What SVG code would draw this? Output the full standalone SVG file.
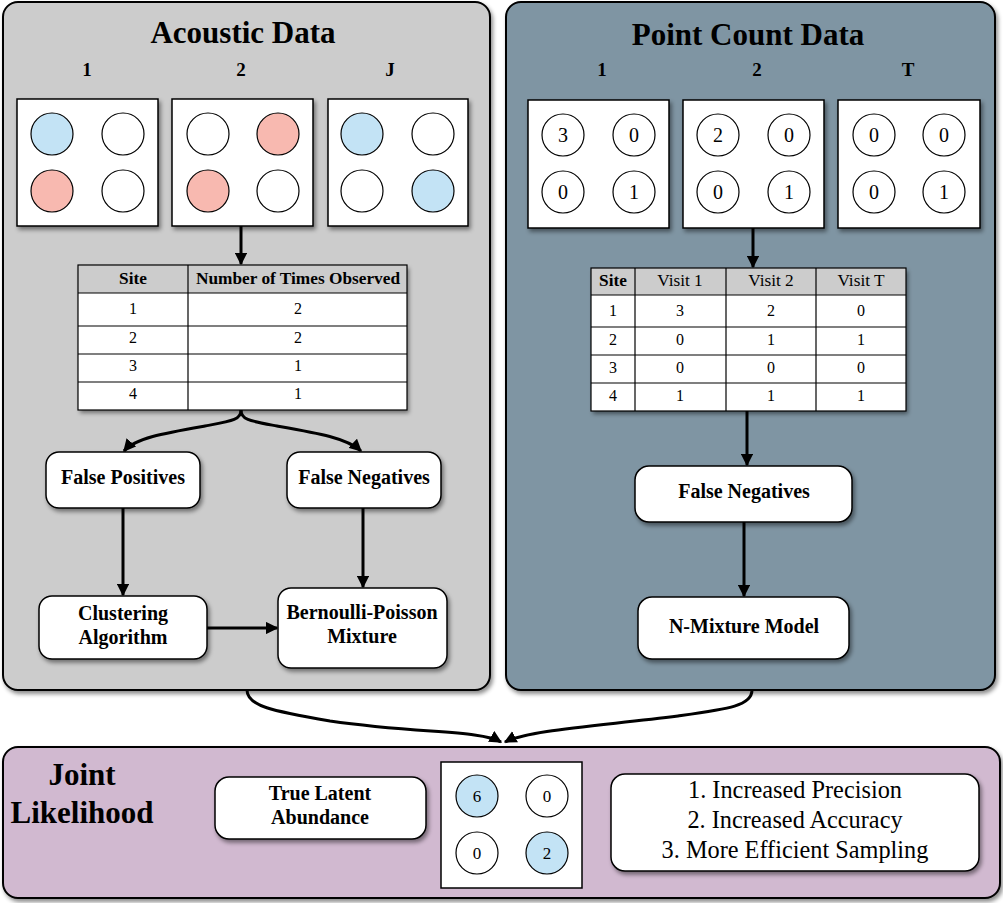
<svg xmlns="http://www.w3.org/2000/svg" width="1003" height="903" viewBox="0 0 1003 903">
<defs>
<filter id="sh" x="-10%" y="-10%" width="130%" height="130%">
<feDropShadow dx="2" dy="3" stdDeviation="2" flood-color="#000" flood-opacity="0.45"/>
</filter>
<marker id="ah" viewBox="0 0 10 10" refX="9" refY="5" markerWidth="4.2" markerHeight="4.2" orient="auto" markerUnits="strokeWidth">
<path d="M0,0 L10,5 L0,10 z" fill="#000"/>
</marker>
</defs>
<style>
text{font-family:"Liberation Serif","Times New Roman",serif;fill:#000;text-anchor:middle}
.b{font-weight:bold}
.ttl{font-size:31px;font-weight:bold}
.col{font-size:19px;font-weight:bold}
.nd{font-size:20px;font-weight:bold}
.tb{font-size:16px}
.th{font-size:17.3px}
.cn{font-size:20px}
.cs{font-size:17px}
.bf{font-size:24.3px}
.panel{stroke:#000;stroke-width:2}
.box{fill:#fff;stroke:#000;stroke-width:1.5}
.node{fill:#fff;stroke:#000;stroke-width:1.5}
.c{stroke:#000;stroke-width:1.2;fill:#fff}
.bl{fill:#c3e3f5}
.pk{fill:#f8b9b0}
.tl{stroke:#000;stroke-width:1.2}
.hd{fill:#cccccc}
.conn path,.conn line{stroke:#000;stroke-width:3;fill:none;marker-end:url(#ah)}
</style>

<g id="acoustic-panel">
<rect class="panel" x="3" y="2" width="487" height="688" rx="15" fill="#cccccc" filter="url(#sh)"/>
<text class="ttl" x="243" y="43">Acoustic Data</text>
<text class="col" x="87" y="76">1</text>
<text class="col" x="241" y="76">2</text>
<text class="col" x="390" y="76">J</text>
</g>

<g id="acoustic-1">
<rect class="box" x="17" y="99" width="141" height="127" filter="url(#sh)"/>
<circle class="c bl" cx="52" cy="134" r="21"/>
<circle class="c" cx="123" cy="134" r="21"/>
<circle class="c pk" cx="52" cy="191" r="21"/>
<circle class="c" cx="123" cy="191" r="21"/>
</g>
<g id="acoustic-2">
<rect class="box" x="172" y="99" width="141" height="127" filter="url(#sh)"/>
<circle class="c" cx="208" cy="134" r="21"/>
<circle class="c pk" cx="278" cy="134" r="21"/>
<circle class="c pk" cx="208" cy="191" r="21"/>
<circle class="c" cx="278" cy="191" r="21"/>
</g>
<g id="acoustic-J">
<rect class="box" x="328" y="99" width="140" height="127" filter="url(#sh)"/>
<circle class="c bl" cx="362" cy="134" r="21"/>
<circle class="c" cx="433" cy="134" r="21"/>
<circle class="c" cx="362" cy="191" r="21"/>
<circle class="c bl" cx="433" cy="191" r="21"/>
</g>

<g id="acoustic-table">
<rect x="78" y="265" width="329" height="145" fill="#fff" filter="url(#sh)"/>
<rect x="78" y="265" width="329" height="28" class="hd"/>
<rect x="78" y="265" width="329" height="145" fill="none" class="tl"/>
<line class="tl" x1="78" y1="293" x2="407" y2="293"/>
<line class="tl" x1="78" y1="326" x2="407" y2="326"/>
<line class="tl" x1="78" y1="354" x2="407" y2="354"/>
<line class="tl" x1="78" y1="382" x2="407" y2="382"/>
<line class="tl" x1="188" y1="265" x2="188" y2="410"/>
<text class="th b" x="133" y="284">Site</text>
<text class="th b" x="298" y="284">Number of Times Observed</text>
<text class="tb" x="133" y="314">1</text><text class="tb" x="298" y="314">2</text>
<text class="tb" x="133" y="343">2</text><text class="tb" x="298" y="343">2</text>
<text class="tb" x="133" y="371">3</text><text class="tb" x="298" y="371">1</text>
<text class="tb" x="133" y="399">4</text><text class="tb" x="298" y="399">1</text>
</g>

<g id="false-positives">
<rect class="node" x="46" y="452" width="154" height="56" rx="13" filter="url(#sh)"/>
<text class="nd" x="123" y="484">False Positives</text>
</g>
<g id="false-negatives-acoustic">
<rect class="node" x="287" y="452" width="154" height="56" rx="13" filter="url(#sh)"/>
<text class="nd" x="364" y="484">False Negatives</text>
</g>
<g id="clustering">
<rect class="node" x="39" y="596" width="168" height="63" rx="13" filter="url(#sh)"/>
<text class="nd" x="123" y="620">Clustering</text>
<text class="nd" x="123" y="644">Algorithm</text>
</g>
<g id="bernoulli-poisson">
<rect class="node" x="278" y="588" width="169" height="80" rx="13" filter="url(#sh)"/>
<text class="nd" x="362" y="619">Bernoulli-Poisson</text>
<text class="nd" x="362" y="643">Mixture</text>
</g>

<g id="pointcount-panel">
<rect class="panel" x="506" y="2" width="489" height="688" rx="15" fill="#7f95a3" filter="url(#sh)"/>
<text class="ttl" x="748" y="45">Point Count Data</text>
<text class="col" x="602" y="76">1</text>
<text class="col" x="757" y="76">2</text>
<text class="col" x="908" y="76">T</text>
</g>

<g id="visit-1">
<rect class="box" x="528" y="100" width="141" height="128" filter="url(#sh)"/>
<circle class="c" cx="563" cy="135" r="21"/><text class="cn" x="563" y="142">3</text>
<circle class="c" cx="634" cy="135" r="21"/><text class="cn" x="634" y="142">0</text>
<circle class="c" cx="563" cy="192" r="21"/><text class="cn" x="563" y="199">0</text>
<circle class="c" cx="634" cy="192" r="21"/><text class="cn" x="634" y="199">1</text>
</g>
<g id="visit-2">
<rect class="box" x="683" y="100" width="141" height="128" filter="url(#sh)"/>
<circle class="c" cx="718" cy="135" r="21"/><text class="cn" x="718" y="142">2</text>
<circle class="c" cx="789" cy="135" r="21"/><text class="cn" x="789" y="142">0</text>
<circle class="c" cx="718" cy="192" r="21"/><text class="cn" x="718" y="199">0</text>
<circle class="c" cx="789" cy="192" r="21"/><text class="cn" x="789" y="199">1</text>
</g>
<g id="visit-T">
<rect class="box" x="838" y="100" width="142" height="128" filter="url(#sh)"/>
<circle class="c" cx="874" cy="135" r="21"/><text class="cn" x="874" y="142">0</text>
<circle class="c" cx="944" cy="135" r="21"/><text class="cn" x="944" y="142">0</text>
<circle class="c" cx="874" cy="192" r="21"/><text class="cn" x="874" y="199">0</text>
<circle class="c" cx="944" cy="192" r="21"/><text class="cn" x="944" y="199">1</text>
</g>

<g id="pointcount-table">
<rect x="591" y="268" width="315" height="143" fill="#fff" filter="url(#sh)"/>
<rect x="591" y="268" width="315" height="27" class="hd"/>
<rect x="591" y="268" width="315" height="143" fill="none" class="tl"/>
<line class="tl" x1="591" y1="295" x2="906" y2="295"/>
<line class="tl" x1="591" y1="327" x2="906" y2="327"/>
<line class="tl" x1="591" y1="355" x2="906" y2="355"/>
<line class="tl" x1="591" y1="383" x2="906" y2="383"/>
<line class="tl" x1="635" y1="268" x2="635" y2="411"/>
<line class="tl" x1="726" y1="268" x2="726" y2="411"/>
<line class="tl" x1="816" y1="268" x2="816" y2="411"/>
<text class="th b" x="613" y="286">Site</text>
<text class="th" x="680" y="286">Visit 1</text>
<text class="th" x="771" y="286">Visit 2</text>
<text class="th" x="861" y="286">Visit T</text>
<text class="tb" x="613" y="316">1</text><text class="tb" x="680" y="316">3</text><text class="tb" x="771" y="316">2</text><text class="tb" x="861" y="316">0</text>
<text class="tb" x="613" y="345">2</text><text class="tb" x="680" y="345">0</text><text class="tb" x="771" y="345">1</text><text class="tb" x="861" y="345">1</text>
<text class="tb" x="613" y="373">3</text><text class="tb" x="680" y="373">0</text><text class="tb" x="771" y="373">0</text><text class="tb" x="861" y="373">0</text>
<text class="tb" x="613" y="401">4</text><text class="tb" x="680" y="401">1</text><text class="tb" x="771" y="401">1</text><text class="tb" x="861" y="401">1</text>
</g>

<g id="false-negatives-pointcount">
<rect class="node" x="635" y="466" width="217" height="56" rx="14" filter="url(#sh)"/>
<text class="nd" x="744" y="498">False Negatives</text>
</g>
<g id="n-mixture">
<rect class="node" x="638" y="597" width="211" height="62" rx="14" filter="url(#sh)"/>
<text class="nd" x="744" y="633">N-Mixture Model</text>
</g>

<g id="joint-panel">
<rect class="panel" x="3" y="747" width="997" height="151" rx="15" fill="#d1b9d0" filter="url(#sh)"/>
<text class="ttl" x="82" y="785">Joint</text>
<text class="ttl" x="82" y="823">Likelihood</text>
</g>
<g id="true-latent">
<rect class="node" x="215" y="777" width="211" height="62" rx="14" filter="url(#sh)"/>
<text class="nd" x="320" y="800">True Latent</text>
<text class="nd" x="320" y="824">Abundance</text>
</g>
<g id="latent-grid">
<rect class="box" x="441" y="762" width="141" height="126"/>
<circle class="c bl" cx="477" cy="796" r="21"/><text class="cs" x="477" y="802">6</text>
<circle class="c" cx="547" cy="796" r="21"/><text class="cs" x="547" y="802">0</text>
<circle class="c" cx="477" cy="853" r="21"/><text class="cs" x="477" y="859">0</text>
<circle class="c bl" cx="547" cy="853" r="21"/><text class="cs" x="547" y="859">2</text>
</g>
<g id="benefits">
<rect class="node" x="611" y="774" width="368" height="97" rx="14" filter="url(#sh)"/>
<text class="bf" x="795" y="798">1. Increased Precision</text>
<text class="bf" x="795" y="828">2. Increased Accuracy</text>
<text class="bf" x="795" y="858">3. More Efficient Sampling</text>
</g>

<g id="connectors" class="conn">
<line x1="241" y1="226" x2="241" y2="264"/>
<line x1="753" y1="228" x2="753" y2="267"/>
<path d="M241,410 C241,420 232,421 205,426 C165,433 135,438 124,451"/>
<path d="M241,410 C241,420 250,421 277,426 C317,433 347,438 361,451"/>
<line x1="123" y1="508" x2="123" y2="595"/>
<line x1="363" y1="508" x2="363" y2="587"/>
<line x1="207" y1="628" x2="277" y2="628"/>
<line x1="747" y1="411" x2="747" y2="465"/>
<line x1="744" y1="522" x2="744" y2="596"/>
<path d="M247,690 C247,706 272,711 330,721 C420,734 480,730 501,742"/>
<path d="M752,690 C752,706 728,709 678,716 C598,726 528,730 505,742"/>
</g>
</svg>
